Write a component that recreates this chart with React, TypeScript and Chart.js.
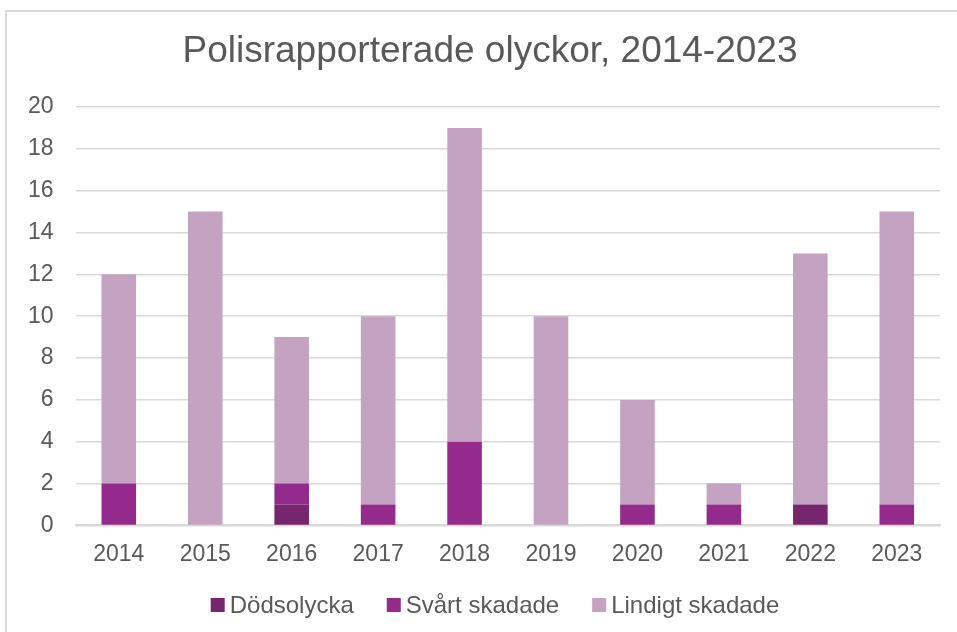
import React, { useEffect, useRef } from "react";
import { Chart, registerables } from "chart.js";

Chart.register(...registerables);

const years = ["2014", "2015", "2016", "2017", "2018", "2019", "2020", "2021", "2022", "2023"];
const dodsolycka = [0, 0, 1, 0, 0, 0, 0, 0, 1, 0];
const svartSkadade = [2, 0, 1, 1, 4, 0, 1, 1, 0, 1];
const lindigtSkadade = [10, 15, 7, 9, 15, 10, 5, 1, 12, 14];
const titleText = "Polisrapporterade olyckor, 2014-2023";

const FONT = "'Liberation Sans', Arial, sans-serif";
const TEXT = "#595959";

const titleLegendPlugin = {
  id: "titleLegend",
  afterDraw(chart: any) {
    const ctx = chart.ctx as CanvasRenderingContext2D;
    ctx.save();
    ctx.fillStyle = TEXT;
    ctx.textBaseline = "middle";
    ctx.textAlign = "center";
    ctx.font = `37px ${FONT}`;
    ctx.fillText(titleText, 490, 52);

    ctx.font = `24px ${FONT}`;
    ctx.textAlign = "left";
    const box = 14, gapBoxText = 5, gapItems = 33;
    const items = chart.data.datasets.map((d: any) => ({ label: d.label, color: d.backgroundColor }));
    const widths = items.map((it: any) => ctx.measureText(it.label).width);
    const total = widths.reduce((a: number, b: number) => a + b, 0) + items.length * (box + gapBoxText) + (items.length - 1) * gapItems;
    let x = 495 - total / 2;
    const y = 605;
    items.forEach((it: any, i: number) => {
      ctx.fillStyle = it.color;
      ctx.fillRect(x, y - box / 2, box, box);
      x += box + gapBoxText;
      ctx.fillStyle = TEXT;
      ctx.fillText(it.label, x, y + 1);
      x += widths[i] + gapItems;
    });
    ctx.restore();
  },
};

export default function App() {
  const ref = useRef<HTMLCanvasElement>(null);
  useEffect(() => {
    if (!ref.current) return;
    const chart = new Chart(ref.current, {
      type: "bar",
      data: {
        labels: years,
        datasets: [
          { label: "Dödsolycka", data: dodsolycka, backgroundColor: "#78256F", categoryPercentage: 0.4, barPercentage: 1 },
          { label: "Svårt skadade", data: svartSkadade, backgroundColor: "#942A8C", categoryPercentage: 0.4, barPercentage: 1 },
          { label: "Lindigt skadade", data: lindigtSkadade, backgroundColor: "#C4A3C2", categoryPercentage: 0.4, barPercentage: 1 },
        ],
      },
      options: {
        animation: false,
        responsive: false,
        maintainAspectRatio: false,
        layout: { padding: { left: 6, right: 17, top: 107, bottom: 49 } },
        plugins: {
          title: { display: false },
          legend: { display: false },
          tooltip: { enabled: false },
        },
        scales: {
          x: {
            stacked: true,
            grid: { display: false, drawTicks: false },
            border: { color: "#D9D9D9", width: 2 },
            ticks: { color: TEXT, font: { family: FONT, size: 23 }, padding: 15 },
          },
          y: {
            stacked: true,
            min: 0,
            max: 20,
            grid: { color: "#D9D9D9", lineWidth: 1.5, drawTicks: false },
            border: { display: false },
            ticks: { stepSize: 2, color: TEXT, font: { family: FONT, size: 23 }, padding: 22 },
          },
        },
      },
      plugins: [titleLegendPlugin],
    });
    return () => chart.destroy();
  }, []);
  return (
    <div style={{ position: "fixed", left: 0, top: 0, width: 957, height: 632, background: "#fff" }}>
      <div style={{ position: "absolute", left: 5, top: 10, width: 960, height: 630, border: "2px solid #D9D9D9", boxSizing: "border-box" }} />
      <canvas ref={ref} width={957} height={632} style={{ position: "absolute", left: 0, top: 0 }} />
    </div>
  );
}
